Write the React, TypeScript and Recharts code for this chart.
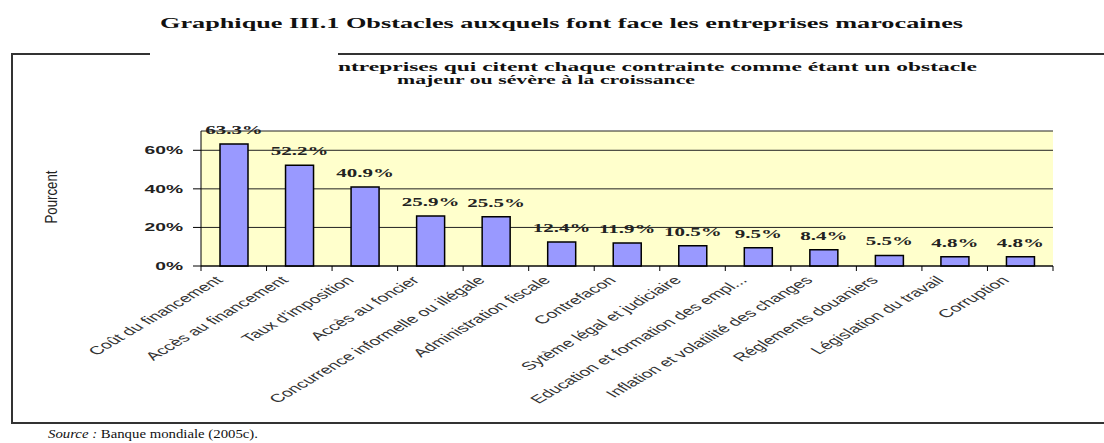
import React from 'react'
import { BarChart, Bar, XAxis, YAxis, CartesianGrid, LabelList } from 'recharts'

const categories = [
  'Coût du financement',
  'Accès au financement',
  "Taux d'imposition",
  'Accès au foncier',
  'Concurrence informelle ou illégale',
  'Administration fiscale',
  'Contrefacon',
  'Sytème légal et judiciaire',
  'Education et formation des empl...',
  'Inflation et volatilité des changes',
  'Réglements douaniers',
  'Législation du travail',
  'Corruption',
]
const shares = [63.3, 52.2, 40.9, 25.9, 25.5, 12.4, 11.9, 10.5, 9.5, 8.4, 5.5, 4.8, 4.8]
const yTicks = [0, 20, 40, 60]

const data = categories.map((name, i) => ({ name, value: shares[i] }))

// the scanned figure is stretched horizontally, text is widened to match
const STRETCH = 1.75
const BAND = (1053 - 201) / categories.length

function XTick(props: any) {
  const { x, y, payload, index } = props
  return (
    <g>
      <line x1={x + BAND / 2} x2={x + BAND / 2} y1={y} y2={y + 5} stroke="#000" />
      {index === 0 && <line x1={x - BAND / 2} x2={x - BAND / 2} y1={y} y2={y + 5} stroke="#000" />}
      <text
        transform={`translate(${x - 10},${y + 15}) scale(1.7,1) rotate(-45)`}
        textAnchor="end"
        fontFamily="Arial, 'Liberation Sans', sans-serif"
        fontSize={11.5}
        fill="#333"
      >
        {payload.value}
      </text>
    </g>
  )
}

function YTick(props: any) {
  const { x, y, payload } = props
  return (
    <text
      transform={`translate(${x},${y + 4}) scale(${STRETCH},1)`}
      textAnchor="end"
      fontFamily="Arial, 'Liberation Sans', sans-serif"
      fontWeight="bold"
      fontSize={11}
      fill="#222"
    >
      {payload.value}%
    </text>
  )
}

function ValueLabel(props: any) {
  const { x, y, width, value } = props
  return (
    <text
      transform={`translate(${x + width / 2},${y - 10}) scale(${STRETCH},1)`}
      textAnchor="middle"
      fontFamily="'Liberation Serif', 'Times New Roman', serif"
      fontWeight="bold"
      fontSize={12}
      fill="#222"
    >
      {Number(value).toFixed(1)}%
    </text>
  )
}

export default function App() {
  return (
    <div style={{ position: 'absolute', left: 0, top: 0, width: 1104, height: 443, background: '#fff' }}>
      <div style={{ position: 'absolute', left: 0, top: 0 }}>
        <BarChart width={1104} height={443} data={data} margin={{ top: 131, right: 51, bottom: 27, left: 141 }}>
          <CartesianGrid vertical={false} fill="#FFFFCC" stroke="#222" strokeWidth={1} />
          <XAxis
            dataKey="name"
            interval={0}
            height={150}
            tickSize={0}
            tickMargin={0}
            tick={<XTick />}
            axisLine={{ stroke: '#000' }}
            tickLine={false}
          />
          <XAxis xAxisId="top" dataKey="name" orientation="top" height={0} tick={false} tickLine={false} axisLine={{ stroke: '#9a9a9a' }} />
          <YAxis
            domain={[0, 70]}
            ticks={yTicks}
            width={60}
            tickSize={8}
            tickMargin={10}
            tick={<YTick />}
            axisLine={{ stroke: '#000' }}
            tickLine={{ stroke: '#000' }}
          />
          <YAxis yAxisId="right" orientation="right" width={0} domain={[0, 70]} tick={false} tickLine={false} axisLine={{ stroke: '#9a9a9a' }} />
          <Bar dataKey="value" fill="#9999FF" stroke="#000" strokeWidth={1.5} barSize={28} isAnimationActive={false}>
            <LabelList dataKey="value" content={<ValueLabel />} />
          </Bar>
        </BarChart>
      </div>
      <svg width={1104} height={443} style={{ position: 'absolute', left: 0, top: 0, pointerEvents: 'none' }}>
        <g stroke="#333" strokeWidth={2}>
          <line x1={12} x2={12} y1={53} y2={424} />
          <line x1={11} x2={1104} y1={423} y2={423} />
          <line x1={11} x2={150} y1={54} y2={54} />
          <line x1={338} x2={1104} y1={54} y2={54} />
        </g>
        <text x={160} y={28} textLength={803} lengthAdjust="spacingAndGlyphs" fontFamily="'Liberation Serif', 'Times New Roman', serif" fontWeight="bold" fontSize={14} fill="#111">
          Graphique III.1  Obstacles auxquels font face les entreprises marocaines
        </text>
        <text x={338} y={71} textLength={639} lengthAdjust="spacingAndGlyphs" fontFamily="'Liberation Serif', 'Times New Roman', serif" fontWeight="bold" fontSize={13} fill="#111">
          ntreprises  qui citent chaque contrainte comme étant un obstacle
        </text>
        <text x={397} y={84} textLength={298} lengthAdjust="spacingAndGlyphs" fontFamily="'Liberation Serif', 'Times New Roman', serif" fontWeight="bold" fontSize={13} fill="#111">
          majeur ou sévère à la croissance
        </text>
        <text transform="translate(57,197) scale(1.4,1) rotate(-90)" textAnchor="middle" fontFamily="Arial, 'Liberation Sans', sans-serif" fontSize={12} fill="#222" textLength={53} lengthAdjust="spacingAndGlyphs">
          Pourcent
        </text>
        <text x={48} y={438} textLength={210} lengthAdjust="spacingAndGlyphs" fontFamily="'Liberation Serif', 'Times New Roman', serif" fontSize={13} fill="#111">
          <tspan fontStyle="italic">Source :</tspan> Banque mondiale (2005c).
        </text>
      </svg>
    </div>
  )
}
